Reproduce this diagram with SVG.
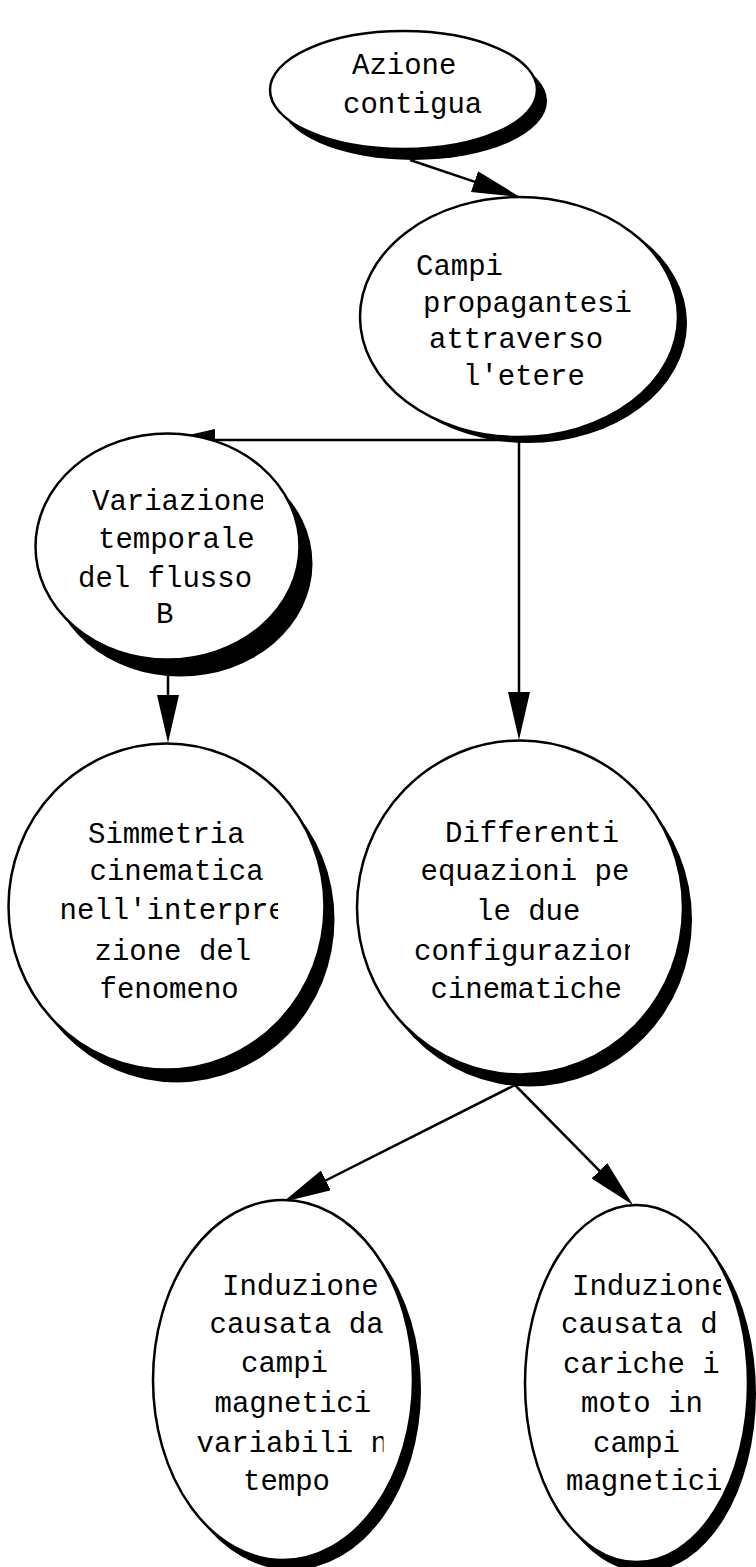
<svg xmlns="http://www.w3.org/2000/svg" width="756" height="1567" viewBox="0 0 756 1567">
<style>
.bg{fill:#fff}
.sh{fill:#000}
.nd{fill:#fff;stroke:#000;stroke-width:2.5}
.lb{font-family:"Liberation Mono","Courier New",monospace;font-size:29px;fill:#000}
.cn{fill:none;stroke:#000;stroke-width:2.5}
</style>
<defs>
<marker id="ah" viewBox="0 0 48 22" markerWidth="48" markerHeight="22" refX="28" refY="11" orient="auto" markerUnits="userSpaceOnUse">
<path d="M0,0 L48,11 L0,22 z" fill="#000"/>
</marker>
<clipPath id="c3"><rect x="0" y="400" width="263" height="300"/></clipPath>
<clipPath id="c4"><rect x="0" y="750" width="278" height="320"/></clipPath>
<clipPath id="c5"><rect x="350" y="750" width="280" height="320"/></clipPath>
<clipPath id="c6"><rect x="150" y="1200" width="233.5" height="360"/></clipPath>
<clipPath id="c7"><rect x="520" y="1200" width="201" height="360"/></clipPath>
</defs>
<rect class="bg" x="0" y="0" width="756" height="1567"/>
<g id="connectors">
<path class="cn" d="M410,160 L501,190.6" marker-end="url(#ah)"/>
<path class="cn" d="M519,440 H187" marker-end="url(#ah)"/>
<path class="cn" d="M519,437 V720" marker-end="url(#ah)"/>
<path class="cn" d="M168,670 V723" marker-end="url(#ah)"/>
<path class="cn" d="M515,1085 L300.9,1193" marker-end="url(#ah)"/>
<path class="cn" d="M515,1085 L619,1190.7" marker-end="url(#ah)"/>
</g>
<g id="n1">
<ellipse class="sh" cx="413.5" cy="101" rx="133.5" ry="59"/>
<ellipse class="nd" cx="403.5" cy="90" rx="133.5" ry="59"/>
<text class="lb"><tspan x="352" y="74">Azione</tspan><tspan x="343" y="113">contigua</tspan></text>
</g>
<g id="n2">
<ellipse class="sh" cx="528" cy="323" rx="159" ry="120"/>
<ellipse class="nd" cx="519" cy="317" rx="159" ry="120"/>
<text class="lb"><tspan x="416" y="275">Campi</tspan><tspan x="423" y="311.7">propagantesi</tspan><tspan x="429" y="348.3">attraverso</tspan><tspan x="463" y="385">l'etere</tspan></text>
</g>
<g id="n3">
<ellipse class="sh" cx="180.5" cy="563.5" rx="132" ry="113"/>
<ellipse class="nd" cx="167.5" cy="546.5" rx="132" ry="113"/>
<text class="lb" clip-path="url(#c3)"><tspan x="92" y="510">Variazione</tspan><tspan x="98" y="548.3">temporale</tspan><tspan x="78" y="586.7">del flusso</tspan><tspan x="156" y="623.3">B</tspan></text>
</g>
<g id="n4">
<ellipse class="sh" cx="176.5" cy="919.5" rx="158" ry="163"/>
<ellipse class="nd" cx="166.5" cy="906.5" rx="158" ry="163"/>
<text class="lb" clip-path="url(#c4)"><tspan x="88" y="842.7">Simmetria</tspan><tspan x="89.5" y="880">cinematica</tspan><tspan x="59.5" y="919.3">nell'interpre</tspan><tspan x="94.5" y="960">zione del</tspan><tspan x="99.5" y="998">fenomeno</tspan></text>
</g>
<g id="n5">
<ellipse class="sh" cx="529" cy="919.5" rx="163" ry="167"/>
<ellipse class="nd" cx="520" cy="907.5" rx="163" ry="167"/>
<text class="lb" clip-path="url(#c5)"><tspan x="445" y="841.7">Differenti</tspan><tspan x="420.5" y="880">equazioni pe</tspan><tspan x="476" y="920">le due</tspan><tspan x="414" y="960">configurazion</tspan><tspan x="430.5" y="998.3">cinematiche</tspan></text>
</g>
<g id="n6">
<ellipse class="sh" cx="291" cy="1390" rx="130" ry="180"/>
<ellipse class="nd" cx="283" cy="1380" rx="130" ry="180"/>
<text class="lb" clip-path="url(#c6)"><tspan x="222" y="1295">Induzione</tspan><tspan x="209.5" y="1333.3">causata da</tspan><tspan x="241" y="1371.7">campi</tspan><tspan x="214.5" y="1411.7">magnetici</tspan><tspan x="196.5" y="1451.7">variabili n</tspan><tspan x="243" y="1490">tempo</tspan></text>
</g>
<g id="n7">
<ellipse class="sh" cx="644.5" cy="1393.5" rx="111.5" ry="178.5"/>
<ellipse class="nd" cx="636.5" cy="1383.5" rx="111.5" ry="178.5"/>
<text class="lb" clip-path="url(#c7)"><tspan x="572" y="1295">Induzione</tspan><tspan x="561" y="1333.3">causata d</tspan><tspan x="563" y="1373.3">cariche i</tspan><tspan x="581" y="1411.7">moto in</tspan><tspan x="593" y="1451.7">campi</tspan><tspan x="566" y="1490">magnetici</tspan></text>
</g>
</svg>
